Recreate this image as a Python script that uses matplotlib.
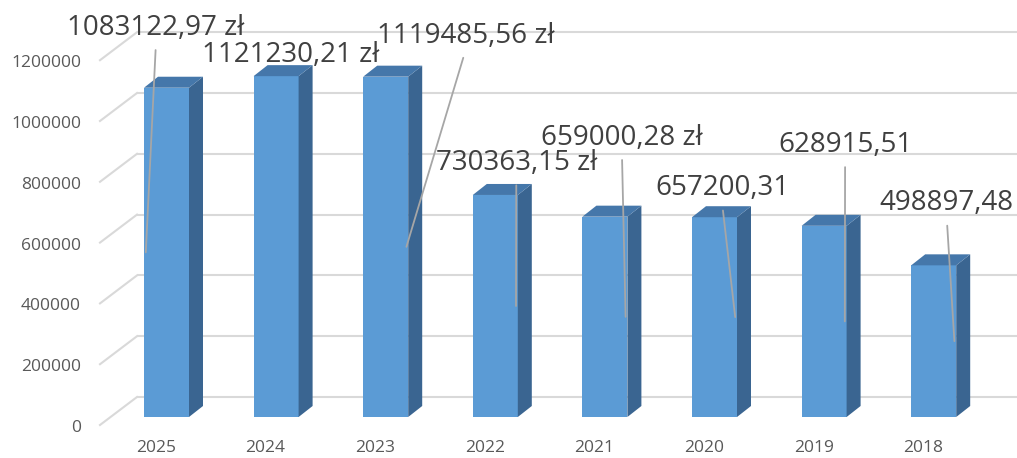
import matplotlib
matplotlib.use("Agg")
import matplotlib.pyplot as plt
from matplotlib.patches import Polygon
from matplotlib.transforms import ScaledTranslation

# Data
years = ["2025", "2024", "2023", "2022", "2021", "2020", "2019", "2018"]
amounts = [1083122.97, 1121230.21, 1119485.56, 730363.15,
           659000.28, 657200.31, 628915.51, 498897.48]
amount_labels = ["1083122,97 zł", "1121230,21 zł", "1119485,56 zł", "730363,15 zł",
                 "659000,28 zł", "657200,31", "628915,51", "498897,48"]
y_ticks = [0, 200000, 400000, 600000, 800000, 1000000, 1200000]
y_tick_labels = [str(t) for t in y_ticks]

# Label placement (pixel offsets from the top of each bar) and leader side
label_dx = [-10.5, 15, 80, 21, 17, 7.5, 21, 13]
label_dy = [53, 14, 34, 25, 72, 22, 74, 55]
leader_side = [-1, 0, 1, 1, 1, 1, 1, 1]

W, H, DPI = 1017, 458, 100
FONT = "Open Sans"
FRONT, SIDE, TOP = "#5B9BD5", "#3A6591", "#4577AA"
GRID = "#D9D9D9"

fig = plt.figure(figsize=(W / DPI, H / DPI), dpi=DPI)
ax = fig.add_axes([0, 0, 1, 1])
ax.axis("off")

SLOT = 109.6     # pixels per category
PXV = 3.04e-4    # pixels per unit of value
X0 = 166.5       # pixel x of first bar centre
BASE = 417       # pixel row of the bar bottoms

xmin, xmax = -X0 / SLOT, (W - X0) / SLOT
ax.set_xlim(xmin, xmax)
ax.set_ylim(-(H - BASE) / PXV, BASE / PXV)


def hx(px):
    return px / SLOT


def vy(px):
    return px / PXV


BW = hx(45)
DX, DY = hx(14), vy(11)

# back wall gridlines + slanted floor-side lines + value labels
for t, lab in zip(y_ticks, y_tick_labels):
    ax.plot([hx(137 - X0), xmax], [t + vy(20)] * 2, color=GRID, lw=1.5,
            zorder=1, solid_capstyle="butt")
    ax.plot([hx(100 - X0), hx(137 - X0)], [t - vy(8), t + vy(20)], color=GRID,
            lw=1.5, zorder=1)
    ax.text(hx(81 - X0), t - vy(15), lab, ha="right", va="baseline",
            fontsize=12.5, color="#595959", family=FONT)

# bars with side and top faces
for i, v in enumerate(amounts):
    l, r = i - BW / 2, i + BW / 2
    ax.bar(i, v, width=BW, color=FRONT, zorder=3, linewidth=0)
    ax.add_patch(Polygon([(r, 0), (r + DX, DY), (r + DX, v + DY), (r, v)],
                         closed=True, facecolor=SIDE, edgecolor="none", zorder=3))
    ax.add_patch(Polygon([(l, v), (r, v), (r + DX, v + DY), (l + DX, v + DY)],
                         closed=True, facecolor=TOP, edgecolor="none", zorder=3))
    ax.text(i - hx(10.5), -vy(35.5), years[i], ha="center", va="baseline",
            fontsize=12.5, color="#595959", family=FONT)

# value labels with leader lines
for i, (v, lab) in enumerate(zip(amounts, amount_labels)):
    tr = ax.transData + ScaledTranslation(label_dx[i] / DPI, label_dy[i] / DPI,
                                          fig.dpi_scale_trans)
    side = leader_side[i]
    props = None
    if side != 0:
        props = dict(arrowstyle="-", color="#A6A6A6", lw=1.3, shrinkA=4,
                     shrinkB=0, relpos=(0.5, 0))
    ax.annotate(lab, xy=(i + side * BW / 2 * 0.92, v / 2), xycoords="data",
                xytext=(i, v), textcoords=tr, ha="center", va="baseline",
                fontsize=20, color="#404040", family=FONT,
                arrowprops=props, zorder=5)

fig.savefig("out.png", dpi=DPI)
